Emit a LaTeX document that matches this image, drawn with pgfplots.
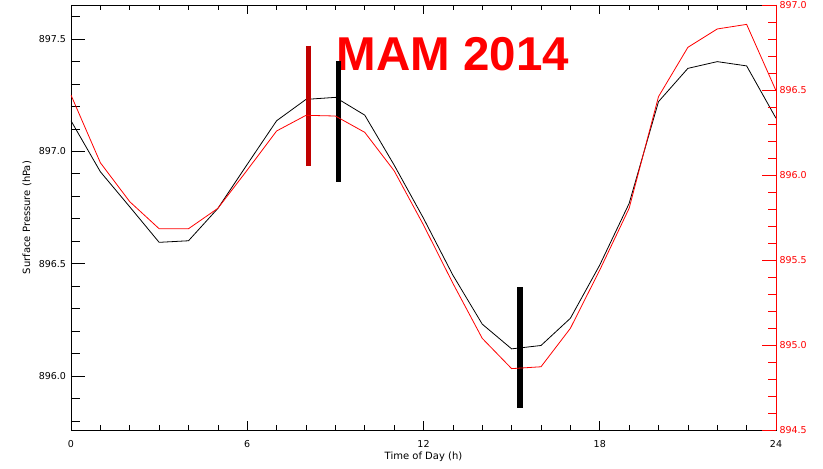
\documentclass[border=0pt]{standalone}
\usepackage{pgfplots}
\pgfplotsset{compat=1.18}
\usepackage{fontspec}
\setmainfont{DejaVu Sans}
\newfontfamily\titlefont{Liberation Sans}
\definecolor{darkbar}{RGB}{192,0,0}
\pgfplotstableread{
h p
0 897.136
1 896.909
2 896.753
3 896.595
4 896.602
5 896.746
6 896.942
7 897.136
8 897.231
9 897.240
10 897.161
11 896.939
12 896.702
13 896.449
14 896.231
15 896.121
16 896.136
17 896.257
18 896.494
19 896.768
20 897.221
21 897.369
22 897.399
23 897.380
24 897.147
}\blackdata
\pgfplotstableread{
h p
0 896.470
1 896.072
2 895.843
3 895.684
4 895.684
5 895.804
6 896.029
7 896.259
8 896.351
9 896.347
10 896.251
11 896.025
12 895.706
13 895.363
14 895.039
15 894.861
16 894.872
17 895.098
18 895.441
19 895.804
20 896.461
21 896.751
22 896.859
23 896.886
24 896.496
}\reddata
\begin{document}
\begin{tikzpicture}
\useasboundingbox (-71pt,-39pt) rectangle (752pt,430pt);
\pgfplotsset{common/.style={scale only axis, width=705pt, height=425pt, xmin=0, xmax=24,
  /pgf/number format/assume math mode=true,
  tick label style={font=\fontsize{9.5}{11}\selectfont},
  label style={font=\fontsize{10}{12}\selectfont},
  axis line style={line width=0.8pt},
  every tick/.style={line width=0.6pt},
  tick align=inside}}
% frame and x ticks
\begin{axis}[common, ymin=0, ymax=1, ytick=\empty,
  xtick={0,6,12,18,24}, minor x tick num=5, xtick pos=both,
  major tick length=9pt, minor tick length=5.5pt,
  xticklabel style={yshift=-6.5pt},
  xlabel={Time of Day (h)},
  xlabel style={at={(axis description cs:0.5,-0.064)}, anchor=center}]
\end{axis}
% left axis, black series
\begin{axis}[common, ymin=895.76, ymax=897.651, hide x axis,
  ytick={896.0,896.5,897.0,897.5},
  minor ytick={895.8,895.9,896.1,896.2,896.3,896.4,896.6,896.7,896.8,896.9,897.1,897.2,897.3,897.4,897.6},
  ytick pos=left,
  major tick length=14pt, minor tick length=9pt,
  yticklabel style={xshift=-1.5pt, /pgf/number format/.cd, fixed, fixed zerofill, precision=1, 1000 sep={}},
  ylabel={Surface Pressure (hPa)},
  ylabel style={at={(axis description cs:-0.0624,0.5)}, anchor=center}]
\addplot[black, line width=0.8pt] table[x=h, y=p] {\blackdata};
\node[anchor=base west, inner sep=0pt, text=red, font=\titlefont\fontsize{47.5}{53}\selectfont\bfseries] at (axis cs:9.048,897.359) {MAM 2014};
\addplot[darkbar, line width=5.5pt, line cap=butt] coordinates {(8.08,897.470) (8.08,896.935)};
\addplot[black, line width=5.5pt, line cap=butt] coordinates {(9.11,897.402) (9.11,896.865)};
\addplot[black, line width=5.5pt, line cap=butt] coordinates {(15.29,896.395) (15.29,895.859)};
\end{axis}
% right axis, red series
\begin{axis}[common, ymin=894.5, ymax=897.0, axis x line=none, axis y line*=right,
  tick align=inside,
  ytick={894.5,895.0,895.5,896.0,896.5,897.0}, minor y tick num=4,
  major tick length=14pt, minor tick length=8.5pt,
  y axis line style={red, line width=0.8pt},
  ytick style={red, line width=0.6pt},
  yticklabel style={red, /pgf/number format/.cd, fixed, fixed zerofill, precision=1, 1000 sep={}}]
\addplot[red, line width=0.8pt] table[x=h, y=p] {\reddata};
\end{axis}
\end{tikzpicture}
\end{document}
